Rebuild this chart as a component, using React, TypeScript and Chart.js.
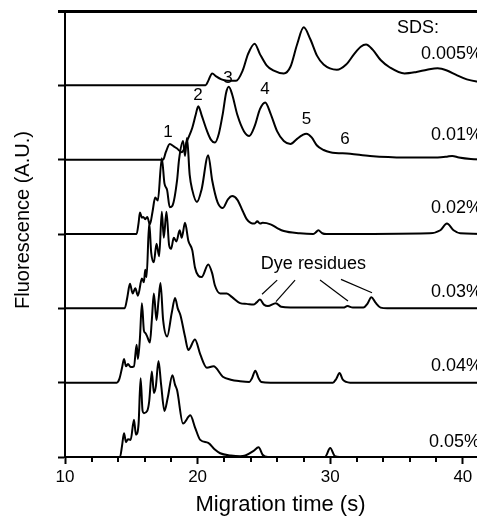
import React, { useEffect, useRef } from 'react';
import { Chart, registerables } from 'chart.js';

Chart.register(...registerables);

const FONT = '"Liberation Sans", Arial, Helvetica, sans-serif';

// SDS concentrations, bottom trace first
const sdsLabels = ['0.05%', '0.04%', '0.03%', '0.02%', '0.01%', '0.005%'];

// [migration time (s), fluorescence (A.U., relative to own baseline)]
const trace005: [number, number][] = [
  [10, 0], [14.15, 0], [14.3, 0.15], [14.45, 0.32], [14.6, 0.2], [14.75, 0.24], [14.95, 0.23],
  [15.2, 0.5], [15.35, 0.3], [15.55, 0.45], [15.7, 1.06], [15.85, 0.62], [15.95, 0.59], [16.2, 0.62],
  [16.35, 0.75], [16.55, 1.15], [16.7, 0.86], [16.85, 0.95], [17.05, 1.29], [17.25, 0.97], [17.5, 0.62],
  [17.75, 0.8], [18.1, 1.1], [18.3, 0.97], [18.45, 0.9], [18.9, 0.45], [19.45, 0.56], [19.8, 0.4],
  [20.2, 0.23], [20.8, 0.19], [21.3, 0.1], [21.7, 0.05], [22.5, 0.02], [23.2, 0.01], [23.6, 0.02],
  [24.2, 0.08], [24.6, 0.13], [24.9, 0.03], [25.3, 0], [29.6, 0], [30, 0.12], [30.35, 0.01],
  [30.7, 0], [42.5, 0],
];

const trace004: [number, number][] = [
  [10, 0], [13.9, 0], [14.1, 0.05], [14.3, 0.2], [14.45, 0.32], [14.6, 0.22], [14.75, 0.25],
  [14.95, 0.21], [15.2, 0.22], [15.4, 0.51], [15.5, 0.32], [15.65, 0.6], [15.8, 1.07], [15.95, 0.7],
  [16.05, 0.67], [16.2, 0.62], [16.4, 0.54], [16.55, 0.85], [16.7, 1.2], [16.9, 0.84], [17.05, 1.1],
  [17.2, 1.34], [17.4, 0.84], [17.7, 0.62], [18.05, 0.94], [18.3, 1.14], [18.5, 1.0], [18.7, 0.91],
  [19.05, 0.62], [19.3, 0.44], [19.8, 0.58], [20.2, 0.38], [20.7, 0.2], [21.2, 0.22], [21.9, 0.08],
  [22.5, 0.04], [23.2, 0.02], [23.9, 0.01], [24.1, 0.06], [24.35, 0.16], [24.6, 0.06], [24.8, 0.01],
  [25.5, 0], [30.2, 0], [30.45, 0.05], [30.7, 0.13], [30.95, 0.04], [31.2, 0.01], [31.5, 0], [42.5, 0],
];

const trace003: [number, number][] = [
  [10, 0], [14.5, 0], [14.7, 0.15], [14.9, 0.33], [15.1, 0.2], [15.3, 0.27], [15.5, 0.17],
  [15.8, 0.4], [15.95, 0.35], [16.05, 0.52], [16.15, 0.42], [16.35, 1.15], [16.5, 0.75], [16.7, 0.62],
  [16.9, 0.87], [17.1, 0.7], [17.3, 1.3], [17.45, 0.95], [17.65, 1.3], [17.85, 0.85], [18.0, 0.8],
  [18.2, 0.95], [18.4, 0.9], [18.65, 1.05], [18.8, 0.95], [19.05, 1.15], [19.3, 0.91], [19.6, 0.78],
  [19.8, 0.55], [20.05, 0.44], [20.3, 0.42], [20.8, 0.59], [21.1, 0.47], [21.3, 0.31], [21.7, 0.2],
  [22.2, 0.2], [22.6, 0.15], [23.2, 0.07], [23.7, 0.06], [24.2, 0.05], [24.45, 0.08], [24.7, 0.12],
  [25.0, 0.05], [25.3, 0.03], [25.9, 0.07], [26.3, 0.02], [27, 0.01], [31, 0.01], [31.3, 0.03],
  [31.7, 0.01], [32.5, 0.01], [32.8, 0.06], [33.1, 0.15], [33.4, 0.08], [33.8, 0.01], [34.3, 0], [42.5, 0],
];

const trace002: [number, number][] = [
  [10, 0], [15.4, 0], [15.55, 0.15], [15.65, 0.29], [15.8, 0.22], [15.9, 0.23], [16.05, 0.2],
  [16.2, 0.23], [16.4, 0.13], [16.6, 0.3], [16.8, 0.49], [17.0, 0.45], [17.3, 1.02], [17.5, 0.68],
  [17.7, 0.59], [17.9, 0.36], [18.1, 0.38], [18.45, 0.72], [18.6, 1.0], [18.9, 1.25], [19.05, 1.05],
  [19.2, 1.29], [19.4, 0.8], [19.6, 0.59], [19.95, 0.43], [20.3, 0.6], [20.8, 1.06], [21.1, 0.72],
  [21.5, 0.43], [21.9, 0.35], [22.3, 0.47], [22.6, 0.51], [23.0, 0.46], [23.4, 0.31], [23.7, 0.2],
  [24.0, 0.15], [24.3, 0.14], [24.5, 0.17], [24.7, 0.14], [24.9, 0.15], [25.5, 0.13], [26.0, 0.08],
  [26.5, 0.04], [27.7, 0.01], [28.7, 0], [28.9, 0.02], [29.1, 0.05], [29.4, 0.01], [29.7, 0],
  [37.5, 0.01], [38.3, 0.05], [38.8, 0.14], [39.3, 0.05], [39.8, 0.01], [42.5, 0],
];

const trace001: [number, number][] = [
  [10, 0], [17.4, 0], [17.6, 0.1], [17.9, 0.21], [18.2, 0.18], [18.45, 0.15], [18.8, 0.1],
  [19.0, 0.15], [19.2, 0.25], [19.6, 0.43], [19.85, 0.6], [20.05, 0.72], [20.3, 0.6], [20.7, 0.39],
  [21.0, 0.27], [21.3, 0.23], [21.6, 0.35], [21.9, 0.62], [22.15, 0.9], [22.35, 0.98], [22.6, 0.88],
  [23.0, 0.6], [23.5, 0.38], [23.9, 0.32], [24.3, 0.45], [24.7, 0.68], [25.1, 0.77], [25.5, 0.62],
  [26.0, 0.38], [26.5, 0.25], [27.0, 0.21], [27.5, 0.28], [27.9, 0.33], [28.2, 0.35], [28.6, 0.3],
  [29.0, 0.19], [29.5, 0.13], [30.0, 0.1], [31.5, 0.08], [33, 0.05], [35.6, 0.03], [38.1, 0.03],
  [38.8, 0.04], [39.2, 0.05], [39.7, 0.03], [40.6, 0.01], [42.5, 0],
];

const trace0005: [number, number][] = [
  [10, 0], [20.6, 0], [20.8, 0.06], [21.1, 0.16], [21.4, 0.12], [21.8, 0.08], [22.3, 0.06],
  [22.9, 0.06], [23.4, 0.2], [23.8, 0.42], [24.3, 0.56], [24.7, 0.42], [25.2, 0.27], [25.7, 0.2],
  [26.5, 0.16], [27.0, 0.25], [27.5, 0.55], [28.0, 0.78], [28.5, 0.62], [29.0, 0.4], [29.5, 0.28],
  [30.5, 0.21], [31.2, 0.28], [31.8, 0.42], [32.3, 0.52], [32.7, 0.55], [33.2, 0.48], [33.8, 0.34],
  [34.5, 0.24], [35.6, 0.16], [36.5, 0.18], [37.3, 0.21], [38.1, 0.23], [38.8, 0.2], [39.5, 0.14],
  [40.3, 0.08], [41.1, 0.05], [42.5, 0.02],
];

const traces = [trace005, trace004, trace003, trace002, trace001, trace0005];

// Annotations
const peakLabels = ['1', '2', '3', '4', '5', '6'];
const peakLabelX = [17.77, 20.03, 22.29, 25.08, 28.2, 31.12];
const peakLabelY = [4.37, 4.87, 5.09, 4.95, 4.54, 4.27];
const sdsLabelX = [37.45, 37.6, 37.6, 37.6, 37.6, 36.85];
const sdsLabelY = [0.2, 1.22, 2.22, 3.35, 4.33, 5.42];
const dyePointers: [number, number, number, number][] = [
  [26.0, 2.38, 24.86, 2.19],
  [27.35, 2.38, 25.91, 2.09],
  [29.23, 2.38, 31.34, 2.1],
  [30.81, 2.39, 33.15, 2.21],
];

const annotPlugin = {
  id: 'annotations',
  afterDraw(chart: any) {
    const ctx = chart.ctx;
    const area = chart.chartArea;
    const x = chart.scales.x;
    const y = chart.scales.y;
    ctx.save();
    ctx.fillStyle = '#000000';
    ctx.strokeStyle = '#000000';
    // top frame line
    ctx.fillRect(area.left - 7, area.top - 1, 450, 3);
    // minor x ticks
    for (let v = 12; v <= 42; v += 2) {
      if (v % 10 === 0) continue;
      const px = Math.round(x.getPixelForValue(v));
      ctx.fillRect(px - 1, area.bottom, 2, 5);
    }
    // y title
    ctx.save();
    ctx.translate(23, 220);
    ctx.rotate(-Math.PI / 2);
    ctx.font = `20px ${FONT}`;
    ctx.textAlign = 'center';
    ctx.textBaseline = 'middle';
    ctx.fillText('Fluorescence (A.U.)', 0, 0);
    ctx.restore();

    ctx.font = `18px ${FONT}`;
    ctx.textBaseline = 'middle';
    ctx.textAlign = 'center';
    ctx.fillText('SDS:', x.getPixelForValue(36.62), y.getPixelForValue(5.77));
    ctx.textAlign = 'left';
    sdsLabels.forEach((t, i) => {
      ctx.fillText(t, x.getPixelForValue(sdsLabelX[i]), y.getPixelForValue(sdsLabelY[i]));
    });
    ctx.font = `17px ${FONT}`;
    ctx.textAlign = 'center';
    peakLabels.forEach((t, i) => {
      ctx.fillText(t, x.getPixelForValue(peakLabelX[i]), y.getPixelForValue(peakLabelY[i]));
    });
    ctx.font = `18px ${FONT}`;
    ctx.fillText('Dye residues', x.getPixelForValue(28.73), y.getPixelForValue(2.6));
    ctx.lineWidth = 1.2;
    dyePointers.forEach(([x1, y1, x2, y2]) => {
      ctx.beginPath();
      ctx.moveTo(x.getPixelForValue(x1), y.getPixelForValue(y1));
      ctx.lineTo(x.getPixelForValue(x2), y.getPixelForValue(y2));
      ctx.stroke();
    });
    ctx.restore();
  },
};

export default function App() {
  const ref = useRef<HTMLCanvasElement | null>(null);
  useEffect(() => {
    if (!ref.current) return;
    const datasets = traces.map((tr, i) => ({
      label: sdsLabels[i],
      data: tr.map(([t, f]) => ({ x: t, y: f + i })),
      borderColor: '#000',
      borderWidth: 2,
      pointRadius: 0,
      fill: false,
      cubicInterpolationMode: 'monotone' as const,
    }));
    const chart = new Chart(ref.current, {
      type: 'line',
      data: { datasets },
      options: {
        responsive: false,
        animation: false,
        layout: { padding: { top: 11, left: 0, right: 0, bottom: 0 } },
        plugins: { legend: { display: false }, tooltip: { enabled: false } },
        scales: {
          x: {
            type: 'linear',
            min: 10,
            max: 42.5,
            afterFit: (s: any) => { s.height = 64; },
            border: { display: true, color: '#000', width: 2 },
            grid: { display: true, drawOnChartArea: false, drawTicks: true, tickLength: 7, color: '#000', tickColor: '#000', tickWidth: 2 },
            ticks: {
              stepSize: 10,
              includeBounds: false,
              color: '#000',
              font: { family: FONT, size: 17 },
              padding: 3,
              maxRotation: 0,
              autoSkip: false,
            },
            title: {
              display: true,
              text: 'Migration time (s)',
              color: '#000',
              font: { family: FONT, size: 22 },
              padding: { top: 0, bottom: 3 },
            },
          },
          y: {
            type: 'linear',
            min: 0,
            max: 6,
            afterFit: (s: any) => { s.width = 65; },
            border: { display: true, color: '#000', width: 2 },
            grid: { display: true, drawOnChartArea: false, drawTicks: true, tickLength: 7, color: '#000', tickColor: '#000', tickWidth: 2 },
            ticks: { stepSize: 1, display: false },
          },
        },
      },
      plugins: [annotPlugin],
    });
    return () => chart.destroy();
  }, []);
  return (
    <div style={{ position: 'fixed', left: 0, top: 0, width: 496, height: 521, background: '#fff' }}>
      <canvas ref={ref} width={496} height={521} style={{ display: 'block' }} />
    </div>
  );
}
